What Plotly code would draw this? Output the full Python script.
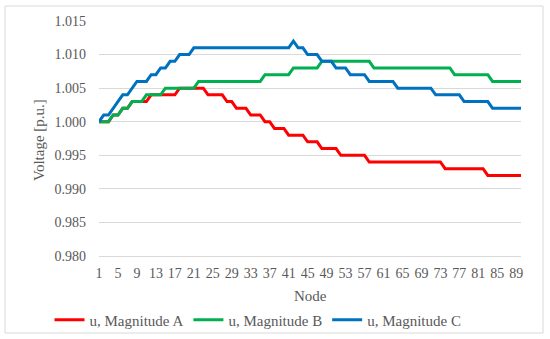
import plotly.graph_objects as go

nodes = list(range(1, 91))

mag_a = [1.000, 1.000, 1.000, 1.001, 1.001, 1.002, 1.002, 1.003, 1.003, 1.003,
         1.003, 1.004, 1.004, 1.004, 1.004, 1.004, 1.004, 1.005, 1.005, 1.005,
         1.005, 1.005, 1.005, 1.004, 1.004, 1.004, 1.004, 1.003, 1.003, 1.002,
         1.002, 1.002, 1.001, 1.001, 1.001, 1.000, 1.000, 0.999, 0.999, 0.999,
         0.998, 0.998, 0.998, 0.998, 0.997, 0.997, 0.997, 0.996, 0.996, 0.996,
         0.996, 0.995, 0.995, 0.995, 0.995, 0.995, 0.995, 0.994, 0.994, 0.994,
         0.994, 0.994, 0.994, 0.994, 0.994, 0.994, 0.994, 0.994, 0.994, 0.994,
         0.994, 0.994, 0.994, 0.993, 0.993, 0.993, 0.993, 0.993, 0.993, 0.993,
         0.993, 0.993, 0.992, 0.992, 0.992, 0.992, 0.992, 0.992, 0.992, 0.992]

mag_b = [1.000, 1.000, 1.000, 1.001, 1.001, 1.002, 1.002, 1.003, 1.003, 1.003,
         1.004, 1.004, 1.004, 1.004, 1.005, 1.005, 1.005, 1.005, 1.005, 1.005,
         1.005, 1.006, 1.006, 1.006, 1.006, 1.006, 1.006, 1.006, 1.006, 1.006,
         1.006, 1.006, 1.006, 1.006, 1.006, 1.007, 1.007, 1.007, 1.007, 1.007,
         1.007, 1.008, 1.008, 1.008, 1.008, 1.008, 1.008, 1.009, 1.009, 1.009,
         1.009, 1.009, 1.009, 1.009, 1.009, 1.009, 1.009, 1.009, 1.008, 1.008,
         1.008, 1.008, 1.008, 1.008, 1.008, 1.008, 1.008, 1.008, 1.008, 1.008,
         1.008, 1.008, 1.008, 1.008, 1.008, 1.007, 1.007, 1.007, 1.007, 1.007,
         1.007, 1.007, 1.007, 1.006, 1.006, 1.006, 1.006, 1.006, 1.006, 1.006]

mag_c = [1.000, 1.001, 1.001, 1.002, 1.003, 1.004, 1.004, 1.005, 1.006, 1.006,
         1.006, 1.007, 1.007, 1.008, 1.008, 1.009, 1.009, 1.010, 1.010, 1.010,
         1.011, 1.011, 1.011, 1.011, 1.011, 1.011, 1.011, 1.011, 1.011, 1.011,
         1.011, 1.011, 1.011, 1.011, 1.011, 1.011, 1.011, 1.011, 1.011, 1.011,
         1.011, 1.012, 1.011, 1.011, 1.010, 1.010, 1.010, 1.009, 1.009, 1.009,
         1.008, 1.008, 1.008, 1.007, 1.007, 1.007, 1.007, 1.006, 1.006, 1.006,
         1.006, 1.006, 1.006, 1.005, 1.005, 1.005, 1.005, 1.005, 1.005, 1.005,
         1.005, 1.004, 1.004, 1.004, 1.004, 1.004, 1.004, 1.003, 1.003, 1.003,
         1.003, 1.003, 1.003, 1.002, 1.002, 1.002, 1.002, 1.002, 1.002, 1.002]

series_names = ["u, Magnitude A", "u, Magnitude B", "u, Magnitude C"]
series_values = [mag_a, mag_b, mag_c]
series_colors = ["#FF0000", "#00B050", "#0070C0"]

x_tick_labels = list(range(1, 90, 4))
y_tick_values = [0.980, 0.985, 0.990, 0.995, 1.000, 1.005, 1.010, 1.015]

FONT = "Liberation Serif"
GRAY = "#595959"

L, R, T, B = 99, 521, 21, 256
PW, PH = R - L, B - T

fig = go.Figure()
for name, vals, col in zip(series_names, series_values, series_colors):
    fig.add_trace(go.Scatter(x=nodes, y=vals, mode="lines", name=name,
                             line=dict(color=col, width=3)))

fig.update_layout(
    width=550, height=339,
    margin=dict(l=L, r=550 - R, t=T, b=339 - B, autoexpand=False),
    paper_bgcolor="white", plot_bgcolor="white",
    font=dict(family=FONT, color=GRAY, size=14),
    showlegend=True,
    legend=dict(orientation="h", x=(258 - L) / PW, xanchor="center",
                y=(B - 320) / PH, yanchor="middle",
                font=dict(size=15, family=FONT, color=GRAY), itemwidth=30,
                traceorder="normal", bgcolor="rgba(0,0,0,0)"),
    xaxis=dict(range=[1, 90], tickmode="array", tickvals=x_tick_labels,
               ticktext=[str(v) for v in x_tick_labels], showgrid=False,
               zeroline=False, showline=True, linecolor="#d9d9d9", linewidth=1,
               ticks="", ticklabelstandoff=4, automargin=False,
               tickfont=dict(size=14, family=FONT, color=GRAY)),
    yaxis=dict(range=[0.980, 1.015], tickmode="array", tickvals=y_tick_values,
               tickformat=".3f", showgrid=True, gridcolor="#d9d9d9", gridwidth=1,
               zeroline=False, showline=False, ticks="", ticklabelstandoff=12,
               automargin=False,
               tickfont=dict(size=14, family=FONT, color=GRAY)),
    annotations=[
        dict(text="Voltage [p.u.]", xref="paper", yref="paper",
             x=(39 - L) / PW, y=(B - 140) / PH, xanchor="center", yanchor="middle",
             textangle=-90, showarrow=False, font=dict(size=15, family=FONT, color=GRAY)),
        dict(text="Node", xref="paper", yref="paper",
             x=(310 - L) / PW, y=(B - 296) / PH, xanchor="center", yanchor="middle",
             showarrow=False, font=dict(size=15, family=FONT, color=GRAY)),
    ],
    shapes=[dict(type="rect", xref="paper", yref="paper",
                 x0=(5 - L) / PW, x1=(543 - L) / PW,
                 y0=(B - 333) / PH, y1=(B - 6) / PH,
                 line=dict(color="#d9d9d9", width=1), fillcolor="rgba(0,0,0,0)", layer="below")],
)

fig.write_html("out.html",
               config={"displayModeBar": False},
               post_script="document.documentElement.style.margin='0';"
                           "document.body.style.margin='0';"
                           "document.body.style.overflow='hidden';")
